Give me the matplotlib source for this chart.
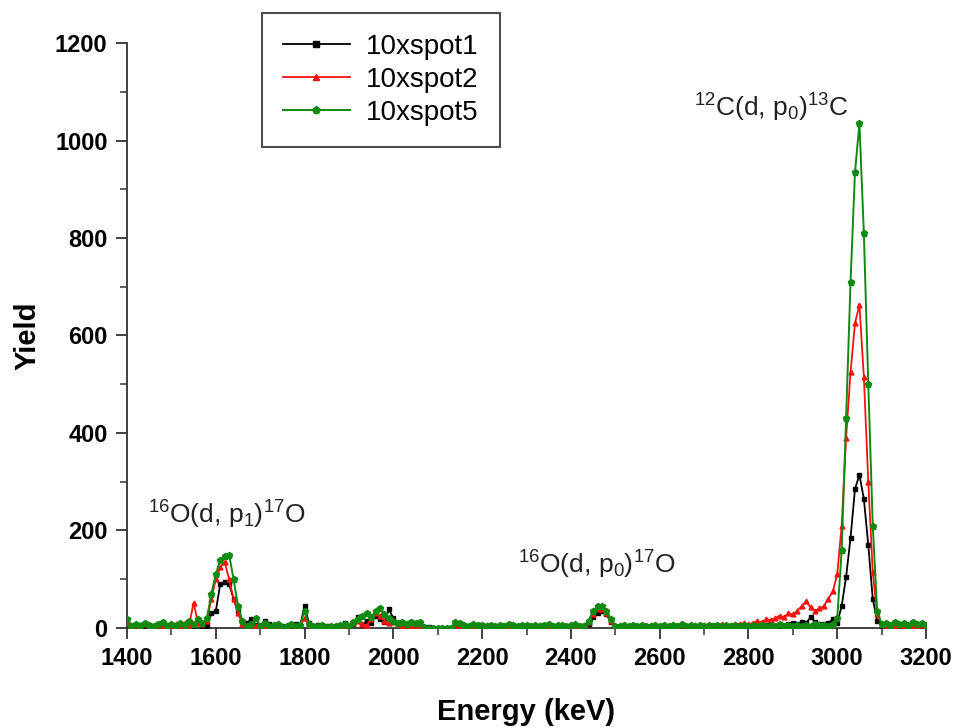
import numpy as np
import matplotlib
matplotlib.use("Agg")
import matplotlib.pyplot as plt
from matplotlib.ticker import MultipleLocator

plt.rcParams['font.family'] = ['Liberation Sans', 'DejaVu Sans']
plt.rcParams['mathtext.fontset'] = 'custom'
plt.rcParams['mathtext.rm'] = 'Liberation Sans'
plt.rcParams['mathtext.it'] = 'Liberation Sans'
plt.rcParams['mathtext.bf'] = 'Liberation Sans:bold'

# channel energies (keV): 1400 ... 3200 in 10 keV bins
E_START = 1400
E_STEP = 10

spot1 = [
    8, 5, 3, 6, 4, 7, 3, 5, 10, 4,            # 1400
    6, 3, 8, 5, 12, 4, 15, 3, 5, 30,          # 1500
    35, 90, 95, 90, 60, 35, 15, 10, 18, 6,    # 1600
    4, 15, 8, 3, 6, 5, 3, 4, 8, 5,            # 1700
    45, 10, 4, 6, 3, 5, 2, 4, 3, 10,          # 1800
    5, 8, 22, 6, 15, 10, 25, 18, 12, 38,      # 1900
    20, 10, 8, 5, 12, 6, 4, 3, 2, 0,          # 2000
    0, 0, 0, 0, 0, 5, 3, 2, 4, 6,             # 2100
    5, 3, 4, 2, 3, 4, 2, 3, 2, 4,             # 2200
    3, 2, 4, 3, 2, 5, 3, 2, 4, 3,             # 2300
    2, 3, 4, 5, 8, 22, 30, 34, 28, 12,        # 2400
    3, 2, 4, 3, 2, 3, 4, 2, 3, 2,             # 2500
    3, 4, 2, 3, 2, 4, 3, 2, 3, 4,             # 2600
    2, 3, 4, 2, 3, 4, 3, 5, 4, 3,             # 2700
    4, 3, 5, 4, 6, 5, 4, 6, 5, 8,             # 2800
    10, 8, 12, 10, 22, 12, 8, 8, 10, 18,      # 2900
    10, 45, 105, 185, 285, 314, 265, 170, 60, 14,  # 3000
    5, 4, 6, 3, 5, 4, 3, 6, 4, 5,             # 3100
    4,                                         # 3200
]

spot2 = [
    10, 4, 6, 3, 8, 5, 4, 6, 3, 5,            # 1400
    4, 8, 5, 10, 6, 52, 10, 8, 15, 60,        # 1500
    100, 125, 135, 100, 60, 30, 8, 5, 10, 4,  # 1600
    6, 4, 3, 8, 5, 3, 4, 6, 3, 5,             # 1700
    20, 6, 3, 5, 4, 3, 5, 2, 4, 6,            # 1800
    3, 10, 15, 8, 5, 18, 30, 25, 15, 10,      # 1900
    12, 8, 5, 6, 4, 3, 5, 2, 0, 0,            # 2000
    0, 0, 0, 0, 0, 3, 5, 4, 3, 5,             # 2100
    4, 6, 3, 5, 4, 3, 5, 4, 3, 4,             # 2200
    5, 3, 4, 6, 3, 5, 4, 3, 5, 4,             # 2300
    3, 5, 4, 6, 12, 28, 38, 38, 30, 15,       # 2400
    4, 3, 5, 4, 6, 3, 5, 4, 6, 5,             # 2500
    4, 6, 5, 3, 5, 6, 4, 5, 6, 5,             # 2600
    6, 5, 7, 6, 8, 6, 7, 9, 8, 10,            # 2700
    8, 10, 14, 12, 18, 16, 20, 25, 22, 30,    # 2800
    28, 35, 45, 55, 42, 35, 40, 45, 60, 75,   # 2900
    110, 210, 390, 525, 625, 663, 515, 300, 115, 28,  # 3000
    8, 5, 6, 4, 7, 5, 6, 4, 5, 6,             # 3100
    5,                                         # 3200
]

spot5 = [
    18, 5, 8, 4, 10, 6, 5, 8, 12, 5,          # 1400
    8, 4, 10, 6, 15, 8, 18, 10, 20, 70,       # 1500
    110, 140, 148, 150, 100, 45, 15, 5, 8, 20,  # 1600
    5, 10, 4, 6, 8, 3, 5, 8, 4, 6,            # 1700
    35, 8, 5, 4, 6, 3, 5, 4, 6, 8,            # 1800
    4, 12, 18, 25, 30, 22, 35, 40, 28, 20,    # 1900
    15, 10, 12, 8, 12, 10, 12, 3, 0, 0,       # 2000
    0, 0, 0, 0, 12, 10, 6, 5, 8, 7,           # 2100
    6, 5, 7, 4, 6, 5, 8, 6, 5, 7,             # 2200
    6, 4, 7, 5, 6, 8, 5, 6, 7, 5,             # 2300
    6, 8, 5, 5, 15, 35, 45, 46, 35, 18,       # 2400
    5, 4, 6, 5, 7, 4, 6, 5, 4, 6,             # 2500
    5, 7, 4, 6, 5, 8, 4, 6, 5, 7,             # 2600
    4, 6, 5, 7, 5, 6, 4, 7, 5, 6,             # 2700
    5, 6, 4, 7, 5, 6, 5, 8, 5, 6,             # 2800
    5, 7, 4, 6, 5, 8, 6, 7, 5, 8,             # 2900
    20, 160, 430, 710, 935, 1035, 810, 500, 210, 35,  # 3000
    8, 10, 6, 12, 8, 10, 7, 12, 8, 10,        # 3100
    6,                                         # 3200
]

series_names = ["10xspot1", "10xspot2", "10xspot5"]
x_ticks = [1400, 1600, 1800, 2000, 2200, 2400, 2600, 2800, 3000, 3200]
y_ticks = [0, 200, 400, 600, 800, 1000, 1200]

energy = E_START + E_STEP * np.arange(len(spot1))

fig = plt.figure(figsize=(9.58, 7.28), dpi=100)
ax = fig.add_axes([0.1326, 0.1374, 0.834, 0.8035])

ax.plot(energy, spot1, color='black', lw=1.3, marker='s', ms=3.5,
        label=series_names[0], zorder=3)
ax.plot(energy, spot2, color='#ff1010', lw=1.3, marker='^', ms=3.5,
        label=series_names[1], zorder=4)
ax.plot(energy, spot5, color='#108a10', lw=1.4, marker='p', ms=4.5,
        label=series_names[2], zorder=5)

ax.set_xlim(1400, 3200)
ax.set_ylim(0, 1200)
ax.set_xticks(x_ticks)
ax.set_yticks(y_ticks)
ax.xaxis.set_minor_locator(MultipleLocator(100))
ax.yaxis.set_minor_locator(MultipleLocator(100))

for s in ['top', 'right']:
    ax.spines[s].set_visible(False)
for s in ['left', 'bottom']:
    ax.spines[s].set_linewidth(1.3)
    ax.spines[s].set_color('#333333')

ax.tick_params(axis='both', which='major', direction='out', length=8,
               width=1.3, color='#333333', labelsize=17, pad=6)
ax.tick_params(axis='both', which='minor', direction='out', length=5,
               width=1.1, color='#333333')
for lab in ax.get_xticklabels() + ax.get_yticklabels():
    lab.set_fontweight('bold')

ax.set_xlabel("Energy (keV)", fontsize=21, fontweight='bold', labelpad=20)
ax.set_ylabel("Yield", fontsize=21, fontweight='bold', labelpad=10)

ax.text(1625, 232, r'$^{16}$O(d, p$_1$)$^{17}$O', fontsize=19,
        ha='center', va='center', color='#222222')
ax.text(2458, 129, r'$^{16}$O(d, p$_0$)$^{17}$O', fontsize=19,
        ha='center', va='center', color='#222222')
ax.text(2852, 1067, r'$^{12}$C(d, p$_0$)$^{13}$C', fontsize=19,
        ha='center', va='center', color='#222222')

leg = ax.legend(loc='upper left', bbox_to_anchor=(262 / 958, 1 - 13 / 728),
                bbox_transform=fig.transFigure, fontsize=20, frameon=True,
                fancybox=False, borderaxespad=0, handlelength=2.4,
                borderpad=0.75, labelspacing=0.25, handletextpad=0.6,
                markerscale=1.3)
leg.get_frame().set_edgecolor('#222222')
leg.get_frame().set_linewidth(1.5)

fig.savefig("out.png", dpi=100)
